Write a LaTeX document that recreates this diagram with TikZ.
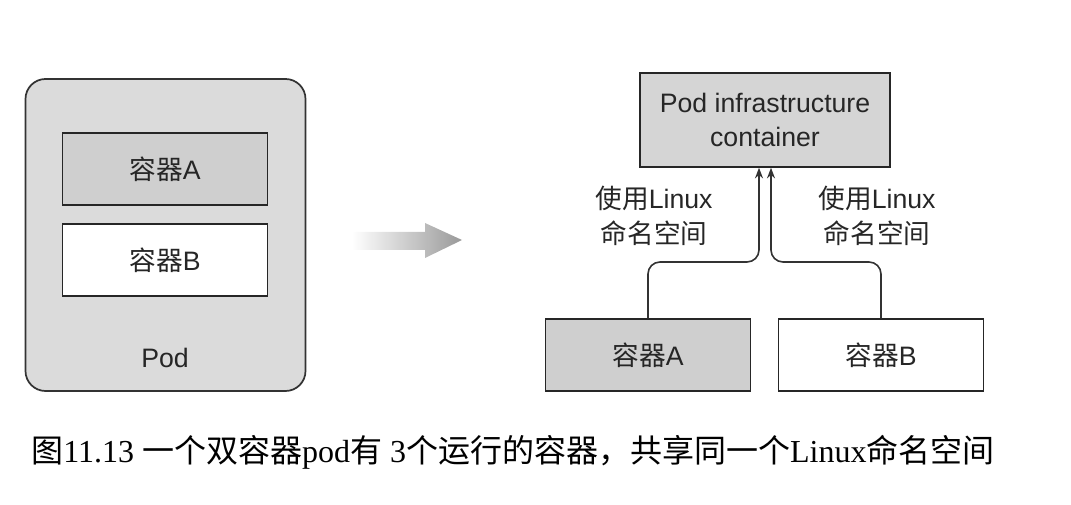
\documentclass[tikz,border=0pt]{standalone}
\usepackage{fontspec}
\setmainfont{Liberation Serif}
\newfontfamily\sans{Liberation Sans}
\newfontfamily\cjk{Noto Sans CJK SC}
\usetikzlibrary{arrows.meta, positioning}

\newcommand{\zh}[1]{{\cjk #1}}

\begin{document}
\begin{tikzpicture}[
    x=0.75pt, y=-0.75pt,
    podbox/.style={rectangle, draw=black!80, line width=1.3pt, fill=gray!28, rounded corners=15pt, minimum width=210pt, minimum height=234pt},
    ctr/.style={rectangle, draw=black!85, line width=1.1pt, minimum width=154pt, minimum height=54pt, inner sep=0pt, text=black!85, font=\sans\fontsize{20}{26}\selectfont},
    infra/.style={ctr, fill=gray!33, minimum width=187.5pt, minimum height=70.5pt, align=center},
    lbl/.style={align=center, inner sep=0pt, text=black!85, font=\sans\fontsize{20}{26}\selectfont},
    link/.style={-{Stealth[length=8pt, width=6pt]}, line width=1.2pt, draw=black!80, rounded corners=9pt},
    caption/.style={anchor=west, inner sep=0pt, font=\fontsize{24}{28}\selectfont}
]
\useasboundingbox (0,0) rectangle (1071,505);

% Pod with two containers
\node[podbox] (pod) at (165.5,235) {};
\node[ctr, fill=gray!38] (pa) at (165,169) {\zh{容器}A};
\node[ctr, fill=white] (pb) at (165,260) {\zh{容器}B};
\node[lbl] (podname) at (165,358) {Pod};

% Shaded arrow
\shade[left color=white, right color=gray!80] (352,232) -- (425,232) -- (425,223) -- (462,240) -- (425,258) -- (425,250) -- (352,250) -- cycle;

% Infrastructure container and the two containers
\node[infra] (infra) at (765,120) {Pod infrastructure\\container};
\node[ctr, fill=gray!38] (ca) at (648,355) {\zh{容器}A};
\node[ctr, fill=white] (cb) at (881,355) {\zh{容器}B};

% Shared namespaces
\coordinate (ja) at (759,262);
\coordinate (jb) at (771,262);
\draw[link] (ca.north) |- (ja) -- (ja |- infra.south);
\draw[link] (cb.north) |- (jb) -- (jb |- infra.south);

\node[lbl] (nsa) at (654,216) {\zh{使用}Linux\\\zh{命名空间}};
\node[lbl] (nsb) at (877,216) {\zh{使用}Linux\\\zh{命名空间}};

% Caption
\node[caption] (cap) at (31,452) {\zh{图}11.13 \zh{一个双容器}pod\zh{有} 3\zh{个运行的容器，共享同一个}Linux\zh{命名空间}};

\end{tikzpicture}
\end{document}
